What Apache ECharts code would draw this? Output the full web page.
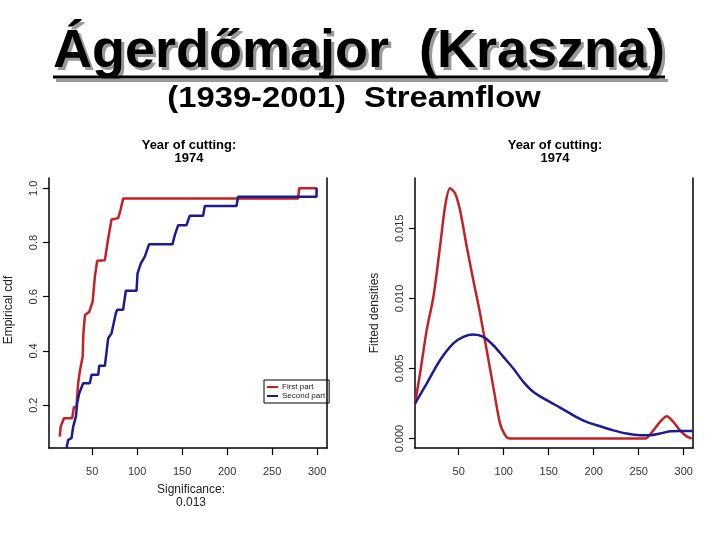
<!DOCTYPE html>
<html><head><meta charset="utf-8">
<script src="https://cdn.jsdelivr.net/npm/echarts@6/dist/echarts.min.js"></script>
<style>html,body{margin:0;padding:0;background:#fff}#c{width:720px;height:540px}</style>
</head><body><div id="c"></div>
<script>
// ---- data ----
var xTicks = [50, 100, 150, 200, 250, 300];
var cdfTicks = [0.2, 0.4, 0.6, 0.8, 1.0];
var denTicks = [0, 0.005, 0.010, 0.015];
var seriesNames = ['First part', 'Second part'];

var cdfFirstX = [14, 15, 17, 18.6, 27.8, 29.6, 32.5, 34.4, 36.5, 39.4, 40.2, 42, 46.8, 50.5, 53, 55.6, 64.1, 67.8, 71.5, 78.9, 81.5, 84.4, 278.9, 280, 300];
var cdfFirstY = [0.084, 0.121, 0.121, 0.152, 0.152, 0.192, 0.192, 0.281, 0.33, 0.379, 0.465, 0.533, 0.545, 0.582, 0.674, 0.733, 0.735, 0.815, 0.885, 0.89, 0.92, 0.962, 0.962, 1.0, 1.0];

var cdfSecondX = [21.5, 23.3, 27, 28.9, 31.9, 33.3, 35.6, 40, 47.4, 49.3, 56.7, 57.8, 64.1, 67.8, 71.5, 76.3, 77.8, 84.4, 87.4, 99.3, 100.4, 104.1, 108.5, 113.3, 139.3, 141.9, 145.6, 154.8, 158.5, 173.3, 175.2, 210.4, 212.2, 299.3, 299.5];
var cdfSecondY = [0.042, 0.072, 0.078, 0.121, 0.158, 0.207, 0.244, 0.281, 0.281, 0.312, 0.312, 0.345, 0.345, 0.447, 0.465, 0.539, 0.552, 0.552, 0.622, 0.622, 0.686, 0.723, 0.748, 0.794, 0.794, 0.828, 0.864, 0.864, 0.899, 0.899, 0.935, 0.935, 0.969, 0.969, 1.0];

var denFirstX = [1.4, 7, 14.4, 21.8, 29.2, 34.8, 40.3, 45.9, 51.4, 58.9, 66.2, 73.7, 81.1, 88.4, 95.9, 101, 105, 110, 257, 266.2, 273.7, 281.1, 288.4, 295.9, 303.3, 308.9];
var denFirstY = [0.0025, 0.00464, 0.00774, 0.0101, 0.01369, 0.01654, 0.01786, 0.0175, 0.0163, 0.01369, 0.0113, 0.00893, 0.0063, 0.00369, 0.00107, 0.0003, 0.00003, 0, 0, 0.00059, 0.00119, 0.00159, 0.00119, 0.00059, 0.00016, 0];

var denSecondX = [1.4, 14.4, 29.2, 44, 55.1, 66.2, 77.3, 88.4, 99.6, 110.7, 121.8, 133, 147.8, 162.6, 177.3, 192.2, 207, 221.8, 236.6, 251.4, 262.6, 273.7, 284.8, 295.9, 310.3];
var denSecondY = [0.0025, 0.00393, 0.00559, 0.00679, 0.00726, 0.00743, 0.00726, 0.00666, 0.00583, 0.005, 0.00405, 0.00333, 0.00274, 0.00221, 0.00166, 0.00119, 0.00088, 0.00059, 0.00036, 0.00024, 0.00024, 0.00036, 0.00052, 0.00054, 0.00054];

// ---- build ----
function zip(a, b) { return a.map(function (v, i) { return [v, b[i]]; }); }
var RED = '#c42025', BLUE = '#1b1b96';
var FONT = 'Liberation Sans, Arial, sans-serif';
var axisLineStyle = { color: '#000', width: 1.5 };

function xAx(grid, min, max) {
  return {
    type: 'value', gridIndex: grid, min: min, max: max,
    axisLine: { show: true, onZero: false, lineStyle: axisLineStyle },
    axisTick: { show: true, length: 7, customValues: xTicks, lineStyle: { color: '#000', width: 1.2 } },
    axisLabel: { customValues: xTicks, margin: 18, fontSize: 11, color: '#333', fontFamily: FONT },
    splitLine: { show: false }
  };
}
function yAx(grid, min, max, ticks, dec) {
  return {
    type: 'value', gridIndex: grid, min: min, max: max,
    axisLine: { show: true, onZero: false, lineStyle: axisLineStyle },
    axisTick: { show: true, length: 6, customValues: ticks, lineStyle: { color: '#000', width: 1.2 } },
    axisLabel: { customValues: ticks, rotate: 90, margin: 10, fontSize: 11, color: '#333', fontFamily: FONT,
      formatter: function (v) { return Number(v).toFixed(dec); } },
    splitLine: { show: false }
  };
}
function yBorder(grid, min, max) {
  return { type: 'value', gridIndex: grid, min: min, max: max, position: 'right',
    axisLine: { show: true, onZero: false, lineStyle: axisLineStyle },
    axisTick: { show: false }, axisLabel: { show: false }, splitLine: { show: false } };
}
function line(name, x, y, color, xi, yi, smooth) {
  return { name: name, type: 'line', xAxisIndex: xi, yAxisIndex: yi, data: zip(x, y),
    showSymbol: false, symbol: 'none', smooth: smooth ? 0.3 : false,
    lineStyle: { color: color, width: 2.5 }, itemStyle: { color: color }, z: 3 };
}
function txt(text, x, y, size, opts) {
  opts = opts || {};
  return { type: 'text', x: x, y: y, rotation: opts.rot || 0, scaleX: opts.sx || 1, z: opts.z || 10,
    style: { text: text, fill: opts.fill || '#000', font: (opts.bold ? 'bold ' : '') + size + 'px ' + FONT,
      align: 'center', verticalAlign: 'middle' } };
}

var chart = echarts.init(document.getElementById('c'), null, { renderer: 'canvas' });
chart.setOption({
  backgroundColor: '#fff',
  animation: false,
  grid: [
    { left: 49, top: 178, width: 278, height: 270 },
    { left: 415, top: 178, width: 278, height: 270 }
  ],
  xAxis: [xAx(0, 2, 311), xAx(1, 1.4, 310.3)],
  yAxis: [yAx(0, 0.042, 1.038, cdfTicks, 1), yAx(1, -0.00067, 0.01859, denTicks, 3),
          yBorder(0, 0.042, 1.038), yBorder(1, -0.00067, 0.01859)],
  legend: {
    data: seriesNames, orient: 'vertical', left: 264, top: 380, padding: [3, 4, 3, 3], itemGap: 1,
    borderColor: '#000', borderWidth: 1, icon: 'rect', itemWidth: 11, itemHeight: 2,
    textStyle: { fontSize: 8, color: '#222', fontFamily: FONT, padding: [0, 0, 0, -1] }, selectedMode: false
  },
  series: [
    line(seriesNames[0], cdfFirstX, cdfFirstY, RED, 0, 0, false),
    line(seriesNames[1], cdfSecondX, cdfSecondY, BLUE, 0, 0, false),
    line(seriesNames[0], denFirstX, denFirstY, RED, 1, 1, true),
    line(seriesNames[1], denSecondX, denSecondY, BLUE, 1, 1, true)
  ],
  graphic: [
    txt('Ágerdőmajor  (Kraszna)', 362, 55, 54, { bold: true, fill: '#999', z: 9 }),
    { type: 'rect', shape: { x: 56, y: 79, width: 612, height: 3 }, style: { fill: '#999' }, z: 9 },
    txt('Ágerdőmajor  (Kraszna)', 359, 52, 54, { bold: true }),
    { type: 'rect', shape: { x: 53, y: 75.5, width: 612, height: 3 }, style: { fill: '#000' }, z: 10 },
    txt('(1939-2001)  Streamflow', 354, 99, 29, { bold: true, sx: 1.13 }),
    txt('Year of cutting:', 189, 145, 13, { bold: true }),
    txt('1974', 189, 158, 13, { bold: true }),
    txt('Year of cutting:', 555, 145, 13, { bold: true }),
    txt('1974', 555, 158, 13, { bold: true }),
    txt('Empirical cdf', 9, 310, 12, { rot: Math.PI / 2, fill: '#222' }),
    txt('Fitted densities', 375, 313, 12, { rot: Math.PI / 2, fill: '#222' }),
    txt('Significance:', 191, 490, 12, { fill: '#222' }),
    txt('0.013', 191, 503, 12, { fill: '#222' })
  ]
});
</script></body></html>
